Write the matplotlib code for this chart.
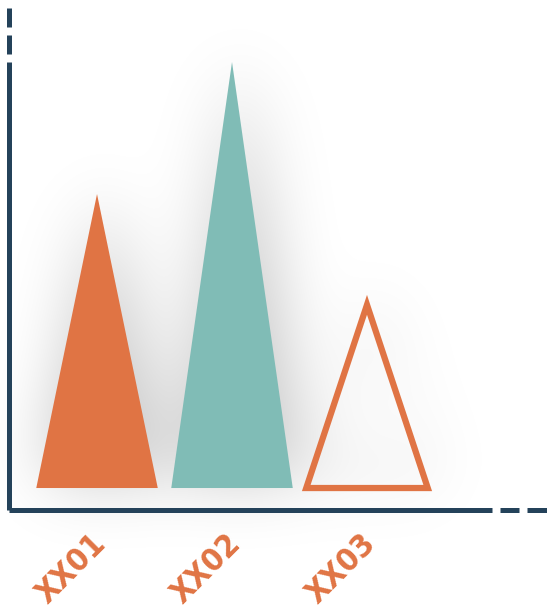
import numpy as np
import matplotlib
matplotlib.use("Agg")
import matplotlib.pyplot as plt
from matplotlib.path import Path
from matplotlib.patches import Polygon
from matplotlib.lines import Line2D

# data
categories = ["XX01", "XX02", "XX03"]
values = [69, 100, 43]
filled = [True, True, False]
colors = ["#e07444", "#80bcb6", "#e07444"]

navy = "#24425a"
W, H = 547, 610

fig = plt.figure(figsize=(W / 100, H / 100), dpi=100)
ax = fig.add_axes([9 / W, 100 / H, 483 / W, 448 / H])
ax.set_zorder(1)
ax.patch.set_visible(False)
ax.set_xlim(-0.652, 2.926)
ax.set_ylim(-5.16, 100)

width = 0.9
x = np.arange(len(categories))

tris = []
for xi, v, f, c in zip(x, values, filled, colors):
    verts = [(xi - width / 2, 0), (xi, v), (xi + width / 2, 0)]
    tris.append((verts, f))
    if f:
        ax.add_patch(Polygon(verts, closed=True, facecolor=c, edgecolor="none"))
    else:
        ax.add_patch(Polygon(verts, closed=True, facecolor="none", edgecolor=c,
                             linewidth=4.5, joinstyle="miter"))

# soft shadow behind the shapes
fig.canvas.draw()
gy, gx = np.mgrid[0:H, 0:W]
pts = np.column_stack([gx.ravel() + 0.5, gy.ravel() + 0.5])
mask = np.zeros(H * W)
for verts, f in tris:
    disp = ax.transData.transform(verts)
    m = Path(disp).contains_points(pts).astype(float)
    if not f:
        c = disp.mean(axis=0)
        inner = c + (disp - c) * 0.85
        m = m - Path(inner).contains_points(pts).astype(float)
    mask = np.maximum(mask, m)
mask = mask.reshape(H, W)
# shift a little right and up (display y is bottom-up)
mask = np.roll(mask, 8, axis=1)
mask = np.roll(mask, 10, axis=0)
sigma = 34
k = np.arange(-3 * sigma, 3 * sigma + 1)
kern = np.exp(-k ** 2 / (2 * sigma ** 2))
kern /= kern.sum()
blur = np.apply_along_axis(lambda r: np.convolve(r, kern, mode="same"), 1, mask)
blur = np.apply_along_axis(lambda r: np.convolve(r, kern, mode="same"), 0, blur)
rgba = np.zeros((H, W, 4))
rgba[..., 3] = np.clip(blur * 0.24, 0, 1)
fig.figimage(rgba, xo=0, yo=0, origin="lower", zorder=0)

# axes lines
for s in ["top", "right"]:
    ax.spines[s].set_visible(False)
for s in ["left", "bottom"]:
    ax.spines[s].set_color(navy)
    ax.spines[s].set_linewidth(3.6)
    ax.spines[s].set_capstyle("butt")
ax.set_xticks([])
ax.set_yticks([])

for a, b in [(1.0166, 1.0559), (1.0725, 1.1284)]:
    ax.add_line(Line2D([a, b], [0, 0], transform=ax.transAxes, color=navy,
                       linewidth=3.6, solid_capstyle="butt", clip_on=False))
for a, b in [(1.0179, 1.0603), (1.078, 1.1205)]:
    ax.add_line(Line2D([0, 0], [a, b], transform=ax.transAxes, color=navy,
                       linewidth=3.6, solid_capstyle="butt", clip_on=False))

for xi, lab in zip(x, categories):
    ax.annotate(lab, xy=(xi, 0), xycoords=("data", "axes fraction"),
                xytext=(-26, -59), textcoords="offset pixels",
                ha="center", va="center", rotation=45, color="#e07444",
                fontsize=23, fontweight="bold", fontstretch="condensed",
                family=["DejaVu Sans"])

fig.savefig("out.png", dpi=100, facecolor="white")
